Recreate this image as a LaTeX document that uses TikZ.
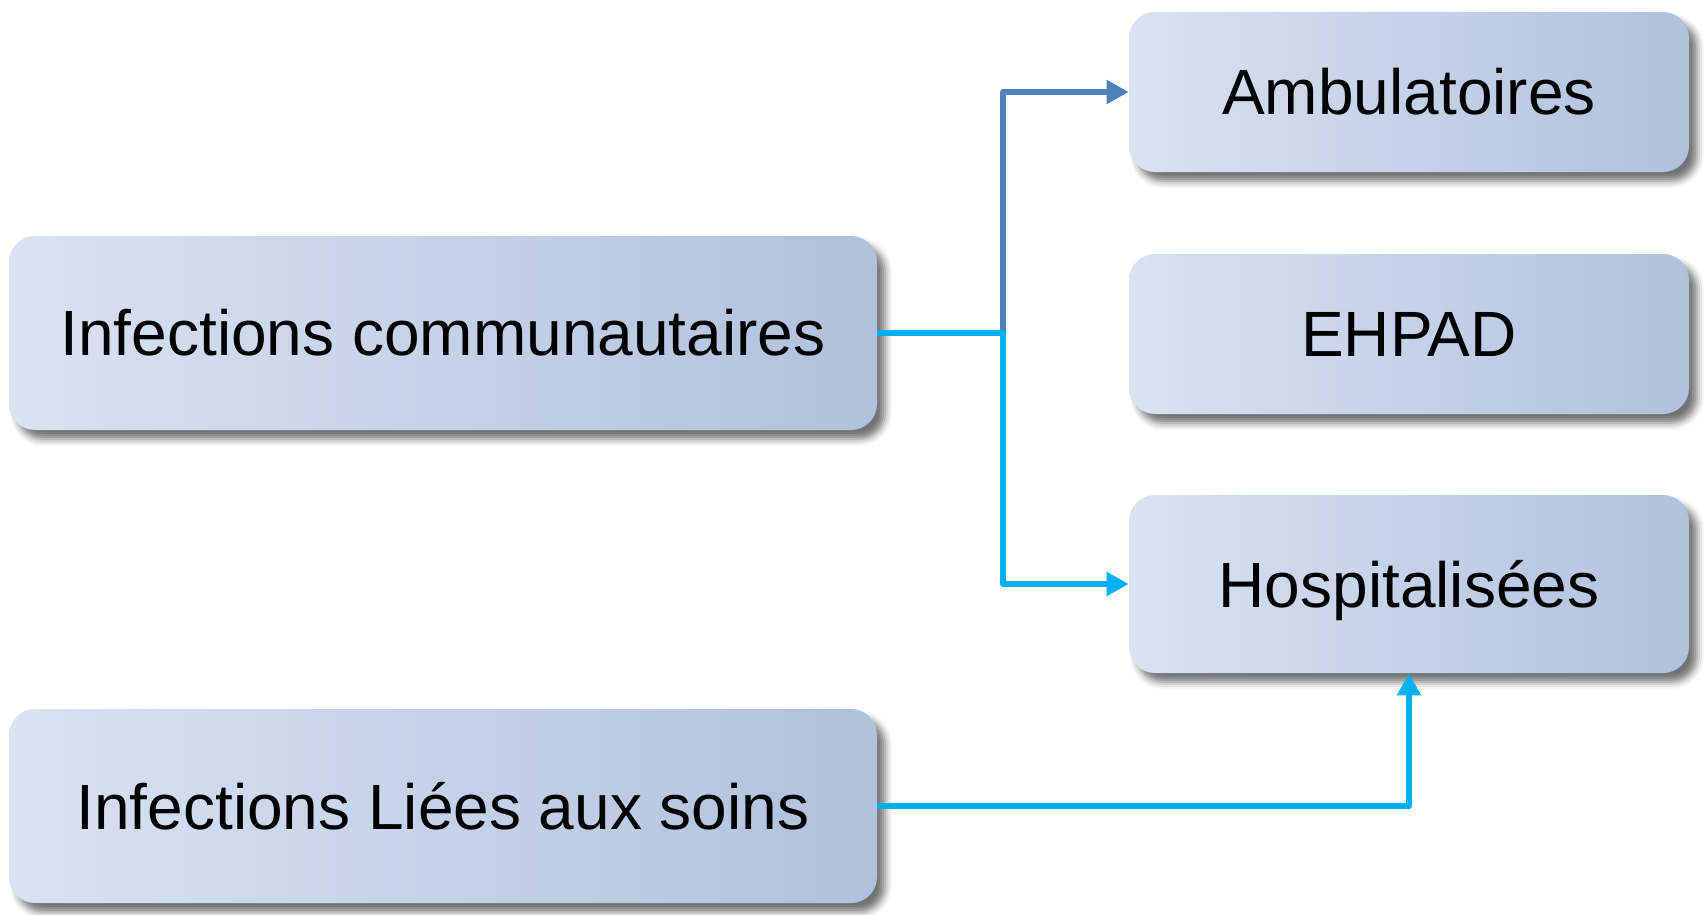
\documentclass[tikz,border=0pt]{standalone}
\usepackage{fontspec}
\setmainfont{Liberation Sans}
\usetikzlibrary{arrows.meta,shadows.blur}
\definecolor{boxL}{RGB}{218,226,243}
\definecolor{boxR}{RGB}{176,193,222}
\definecolor{darkblueline}{RGB}{79,129,189}
\definecolor{cyanline}{RGB}{0,176,240}
\tikzset{
  box/.style={rounded corners=13pt, left color=boxL, right color=boxR, draw=none,
    blur shadow={shadow xshift=4pt, shadow yshift=-4.5pt, shadow blur radius=3.5pt, shadow opacity=55},
    font=\fontsize{32}{38}\selectfont, text=black, inner sep=0pt},
  conn/.style={line width=2.9pt, line join=round, -{Triangle[length=11pt,width=11.5pt]}}
}
\begin{document}
\begin{tikzpicture}[x=0.5pt,y=-0.5pt]
\useasboundingbox (0,0) rectangle (1707,915);
\node[box, minimum width=434pt, minimum height=97pt] (ic) at (443,333) {Infections communautaires};
\node[box, minimum width=434pt, minimum height=97pt] (il) at (443,806) {Infections Liées aux soins};
\node[box, minimum width=280pt, minimum height=80pt] (amb) at (1409,92) {Ambulatoires};
\node[box, minimum width=280pt, minimum height=80pt] (ehp) at (1409,334) {EHPAD};
\node[box, minimum width=280pt, minimum height=89pt, text height=23.4pt, text depth=0pt] (hosp) at (1409,584) {Hospitalisées};
\coordinate (j) at (1003,333);
\draw[conn, darkblueline] (j) |- (amb.west);
\draw[conn, cyanline] (ic.east) -- (j) |- (hosp.west);
\draw[conn, cyanline] (il.east) -| (hosp.south);
\end{tikzpicture}
\end{document}
